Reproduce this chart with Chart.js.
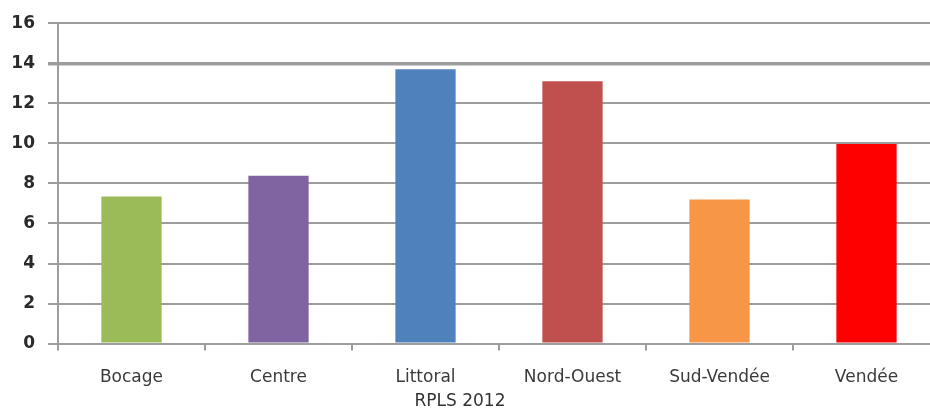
<!DOCTYPE html>
<html>
<head>
<meta charset="utf-8">
<script src="https://cdn.jsdelivr.net/npm/chart.js@4/dist/chart.umd.min.js"></script>
<style>
  html, body { margin: 0; padding: 0; overflow: hidden; background: #fff; }
  #wrap { width: 940px; height: 430px; position: relative; }
</style>
</head>
<body>
<div id="wrap"><canvas id="rplsChart"></canvas></div>
<script>
// RPLS 2012 by territory
const territories = ['Bocage', 'Centre', 'Littoral', 'Nord-Ouest', 'Sud-Vendée', 'Vendée'];
const rplsValues = [7.35, 8.38, 13.7, 13.1, 7.2, 9.97];
const barColors = ['#9bbb59', '#8064a2', '#4f81bd', '#c0504d', '#f79646', '#ff0000'];
const yTicks = [0, 2, 4, 6, 8, 10, 12, 14, 16];

const gridGray = '#9d9d9d';

const ctx = document.getElementById('rplsChart').getContext('2d');
const rplsChart = new Chart(ctx, {
  type: 'bar',
  data: {
    labels: territories,
    datasets: [{
      label: 'RPLS 2012',
      data: rplsValues,
      backgroundColor: barColors,
      borderWidth: 0,
      barPercentage: 0.41,
      categoryPercentage: 1
    }]
  },
  options: {
    responsive: true,
    maintainAspectRatio: false,
    animation: false,
    layout: { padding: { left: -20, top: 15, right: 0, bottom: 0 } },
    plugins: {
      legend: { display: false },
      tooltip: { enabled: false },
      title: {
        display: true,
        text: 'RPLS 2012',
        position: 'bottom',
        color: '#333',
        font: { family: 'DejaVu Sans', size: 17, weight: 'normal' },
        padding: { top: 0, bottom: 18 }
      }
    },
    scales: {
      x: {
        grid: {
          offset: true,
          drawOnChartArea: false,
          drawTicks: true,
          tickLength: 7,
          color: gridGray,
          lineWidth: 2
        },
        border: { display: true, color: gridGray, width: 2 },
        ticks: {
          color: '#3a3a3a',
          padding: 17,
          maxRotation: 0,
          font: { family: 'DejaVu Sans', size: 17 }
        },
        afterFit: (scale) => { scale.height = 48; }
      },
      y: {
        min: 0,
        max: 16,
        afterBuildTicks: (scale) => { scale.ticks = yTicks.map(v => ({ value: v })); },
        grid: {
          color: gridGray,
          lineWidth: (c) => (c.tick && c.tick.value === 14 ? 3.5 : 2),
          tickLength: 10
        },
        border: { display: true, color: gridGray, width: 2 },
        ticks: {
          color: '#2a2a2a',
          padding: 13,
          font: { family: 'DejaVu Sans', size: 17, weight: 'bold' }
        },
        afterFit: (scale) => { scale.width = 78; }
      }
    }
  }
});
</script>
</body>
</html>
